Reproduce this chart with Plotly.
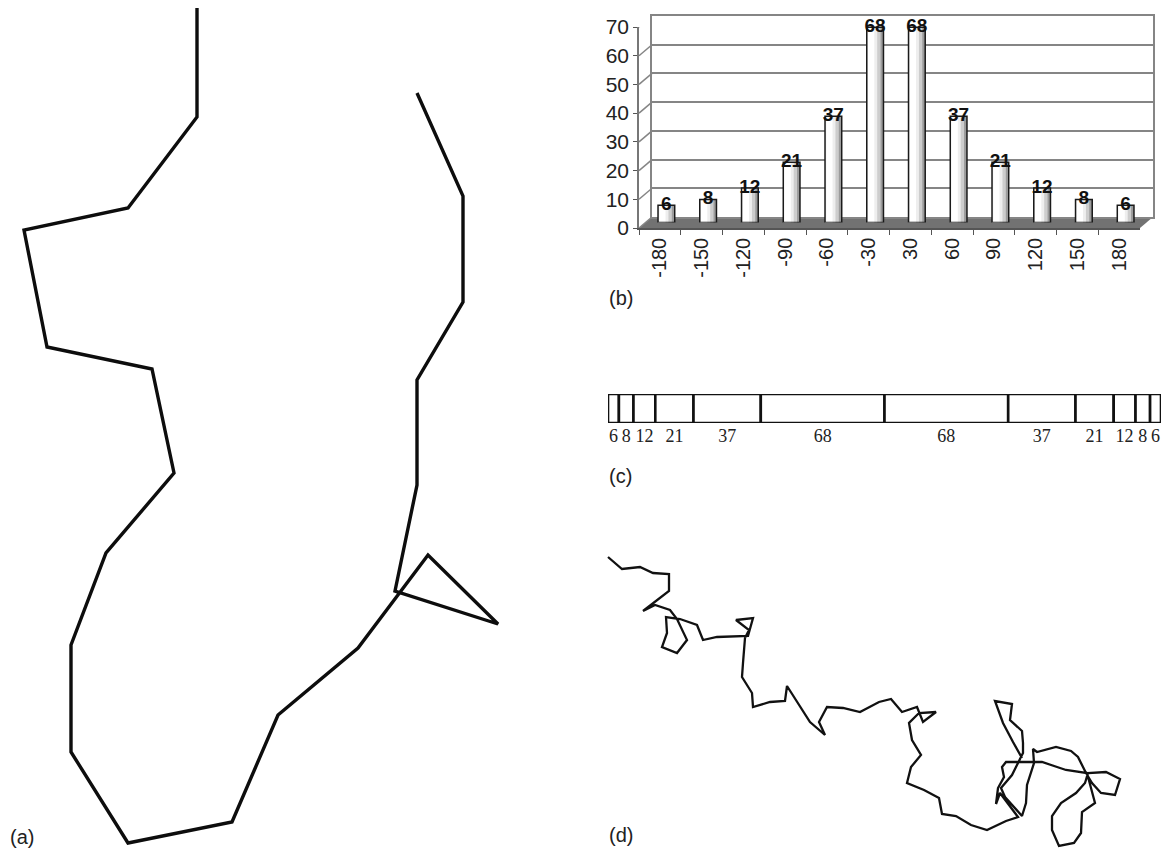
import plotly.graph_objects as go
from itertools import accumulate

W, H = 1169, 848

# ---------------- data ----------------
angle_labels = ["-180", "-150", "-120", "-90", "-60", "-30", "30", "60", "90", "120", "150", "180"]
counts = [6, 8, 12, 21, 37, 68, 68, 37, 21, 12, 8, 6]
y_ticks = [0, 10, 20, 30, 40, 50, 60, 70]

# panel (a) path (page-pixel units, y downward)
path_a_x = [197, 197, 128, 24, 47, 152, 174, 106, 71, 71, 128, 232, 278, 358, 428, 498, 395, 417, 417, 463, 463, 417]
path_a_y = [8, 117, 208, 230, 347, 369, 473, 553, 645, 752, 843, 822, 715, 648, 555, 624, 591, 485, 380, 302, 196, 93]

# panel (d) path (page-pixel units, y downward)
path_d_x = [608, 622, 640, 653, 669, 669, 643, 655, 670, 677, 687, 677, 662, 667, 666, 680, 697, 703, 717, 748,
            753, 736, 749, 745, 743, 742, 752, 753, 770, 785, 787, 798, 810, 825, 819, 827, 843, 860, 879,
            891, 902, 917, 923, 936, 919, 909, 912, 921, 911, 907, 924, 939, 942, 956, 971, 987, 1006, 1018,
            1000, 996, 998, 1004, 1002, 1006, 1042, 1066, 1087, 1095, 1082, 1081, 1074, 1059, 1052, 1052, 1061,
            1076, 1085, 1088, 1106, 1120, 1115, 1101, 1092, 1086, 1078, 1071, 1056, 1037, 1033, 1034, 1027, 1026,
            1022, 1005, 1001, 1012, 1019, 1023, 1023, 1022, 1010, 1012, 995, 1003, 1013, 1022]
path_d_y = [557, 569, 567, 573, 574, 591, 611, 605, 610, 619, 640, 653, 647, 633, 617, 619, 625, 640, 637, 636,
            618, 620, 630, 638, 663, 677, 693, 707, 702, 701, 686, 703, 722, 735, 722, 707, 708, 712, 702,
            699, 712, 707, 722, 712, 713, 723, 740, 755, 767, 783, 790, 798, 814, 816, 825, 830, 821, 817,
            793, 804, 788, 777, 767, 762, 762, 770, 773, 803, 812, 833, 843, 846, 830, 816, 803,
            793, 783, 773, 772, 779, 795, 793, 783, 773, 757, 751, 747, 752, 749, 763, 785, 803,
            816, 797, 788, 775, 762, 753, 743, 731, 720, 704, 701, 723, 742, 758]

panel_labels = ["(a)", "(b)", "(c)", "(d)"]

# ---------------- layout helpers ----------------
def dx(a, b):
    return [a / W, b / W]

def dy(top, bottom):
    return [1 - bottom / H, 1 - top / H]

FRONT = dict(x=(639, 1140), y=(27, 228))
BACK = dict(x=(652, 1153), y=(16, 217))
MID = dict(x=(645.5, 1146.5), y=(21.5, 222.5))
STRIP = dict(x=(608, 1161), y=(394, 423))
DEPTH_UNITS = 11 / ((228 - 27) / 70)

SANS = "Liberation Sans, Arial, sans-serif"
SERIF = "Liberation Serif, Times New Roman, serif"
GRID = "#858585"

fig = go.Figure()

# front axis anchor (invisible)
fig.add_trace(go.Scatter(x=angle_labels, y=counts, mode="markers", marker=dict(opacity=0),
                         xaxis="x", yaxis="y", hoverinfo="skip", showlegend=False))
# back wall anchor (invisible)
fig.add_trace(go.Scatter(x=angle_labels, y=counts, mode="markers", marker=dict(opacity=0),
                         xaxis="x2", yaxis="y2", hoverinfo="skip", showlegend=False))

# bars: layered fills to mimic cylinder shading, then outline
bar_layers = [
    (-0.2, 0.4, "#9c9c9c"),
    (-0.2, 0.33, "#cdcdcd"),
    (-0.2, 0.25, "#eeeeee"),
    (-0.17, 0.15, "#ffffff"),
]
for off, wid, col in bar_layers:
    fig.add_trace(go.Bar(x=angle_labels, y=counts, offset=off, width=wid,
                         marker=dict(color=col, line=dict(width=0)),
                         xaxis="x3", yaxis="y3", hoverinfo="skip", showlegend=False))
fig.add_trace(go.Bar(x=angle_labels, y=counts, offset=-0.2, width=0.4,
                     marker=dict(color="rgba(0,0,0,0)", line=dict(width=1.5, color="#1a1a1a")),
                     xaxis="x3", yaxis="y3", hoverinfo="skip", showlegend=False))
fig.add_trace(go.Scatter(x=angle_labels, y=counts, mode="text",
                         text=[f"<b>{c}</b>" for c in counts], textposition="middle center",
                         textfont=dict(family=SANS, size=19, color="#111"),
                         xaxis="x3", yaxis="y3", hoverinfo="skip", showlegend=False, cliponaxis=False))

# strip (c)
bases = [0] + list(accumulate(counts))[:-1]
centers = [b + c / 2 for b, c in zip(bases, counts)]
fig.add_trace(go.Bar(x=counts, base=bases, y=[0] * len(counts), orientation="h", width=1,
                     marker=dict(color="white", line=dict(color="#111", width=2.6)),
                     xaxis="x4", yaxis="y4", hoverinfo="skip", showlegend=False, cliponaxis=False))

# panels (a) and (d)
fig.add_trace(go.Scatter(x=path_a_x, y=path_a_y, mode="lines", line=dict(color="#0d0d0d", width=3.4),
                         xaxis="x5", yaxis="y5", hoverinfo="skip", showlegend=False))
fig.add_trace(go.Scatter(x=path_d_x, y=path_d_y, mode="lines", line=dict(color="#111", width=2.3),
                         xaxis="x5", yaxis="y5", hoverinfo="skip", showlegend=False))

cat_range = [-0.5, len(angle_labels) - 0.5]

shapes = []
# floor
fx0, fx1 = FRONT["x"]
bx0, bx1 = BACK["x"]
fyb = FRONT["y"][1]
byb = BACK["y"][1]
path = (f"M {fx0/W},{1-fyb/H} L {fx1/W},{1-fyb/H} L {bx1/W},{1-byb/H} L {bx0/W},{1-byb/H} Z")
shapes.append(dict(type="path", path=path, xref="paper", yref="paper", fillcolor="#727272",
                   line=dict(width=0), layer="below"))
# side wall diagonals
side_w = (bx0 - fx0) / (fx1 - fx0)
for v in y_ticks:
    shapes.append(dict(type="line", xref="x domain", yref="y", x0=0, x1=side_w, y0=v, y1=v + DEPTH_UNITS,
                       line=dict(color=GRID, width=1.5)))

annotations = []
label_pos = [(8, 837), (607, 298), (607, 476), (607, 835)]
for t, (px, py) in zip(panel_labels, label_pos):
    annotations.append(dict(text=t, x=px / W, y=1 - py / H, xref="paper", yref="paper",
                            xanchor="left", yanchor="middle", showarrow=False,
                            font=dict(family=SANS, size=20, color="#222")))

fig.update_layout(
    width=W, height=H, margin=dict(l=0, r=0, t=0, b=0, pad=0, autoexpand=False),
    paper_bgcolor="white", plot_bgcolor="rgba(0,0,0,0)",
    barmode="overlay", hovermode=False, showlegend=False,
    shapes=shapes, annotations=annotations,
    xaxis=dict(domain=dx(*FRONT["x"]), anchor="y", type="category", categoryorder="array",
               categoryarray=angle_labels, range=cat_range, tickson="boundaries", ticks="outside",
               ticklen=5, tickcolor="#555", tickangle=-90, showline=True, linecolor="#555", linewidth=1.5,
               showgrid=False, zeroline=False, automargin=False,
               tickfont=dict(family=SANS, size=20, color="#222")),
    yaxis=dict(domain=dy(*FRONT["y"]), anchor="x", range=[0, 70], tickvals=y_ticks, ticks="outside",
               ticklen=4, tickcolor="#555", showline=True, linecolor="#777", linewidth=1.5,
               showgrid=False, zeroline=False, automargin=False,
               tickfont=dict(family=SANS, size=21, color="#222")),
    xaxis2=dict(domain=dx(*BACK["x"]), anchor="y2", type="category", categoryorder="array",
                categoryarray=angle_labels, range=cat_range, showticklabels=False, ticks="",
                showline=True, mirror=True, linecolor=GRID, linewidth=1.5, showgrid=False, zeroline=False,
                automargin=False),
    yaxis2=dict(domain=dy(*BACK["y"]), anchor="x2", range=[0, 70], tickvals=y_ticks, showticklabels=False,
                ticks="", showline=True, mirror=True, linecolor=GRID, linewidth=1.5,
                showgrid=True, gridcolor=GRID, gridwidth=1.5, zeroline=False, automargin=False),
    xaxis3=dict(domain=dx(*MID["x"]), anchor="y3", type="category", categoryorder="array",
                categoryarray=angle_labels, range=cat_range, visible=False, automargin=False),
    yaxis3=dict(domain=dy(*MID["y"]), anchor="x3", range=[0, 70], visible=False, automargin=False),
    xaxis4=dict(domain=dx(*STRIP["x"]), anchor="y4", range=[0, sum(counts)], tickvals=centers,
                ticktext=[str(c) for c in counts], tickangle=0, ticks="", showline=False, showgrid=False,
                zeroline=False, automargin=False, tickfont=dict(family=SERIF, size=18, color="#222")),
    yaxis4=dict(domain=dy(*STRIP["y"]), anchor="x4", range=[-0.5, 0.5], visible=False, automargin=False),
    xaxis5=dict(domain=[0, 1], anchor="y5", range=[0, W], visible=False, automargin=False),
    yaxis5=dict(domain=[0, 1], anchor="x5", range=[H, 0], visible=False, automargin=False),
)

fig.write_html("out.html", config={"displayModeBar": False},
               post_script="document.body.style.margin='0px';")
